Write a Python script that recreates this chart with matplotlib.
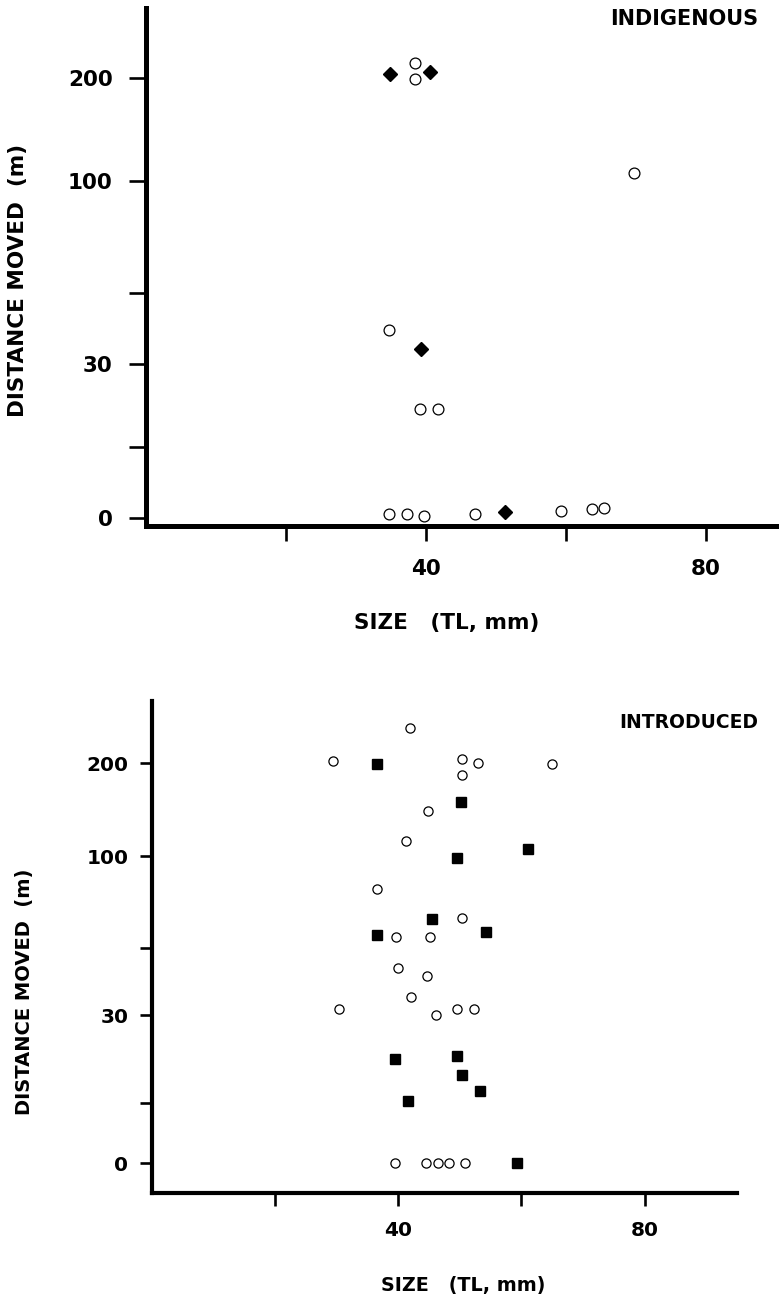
import numpy as np
import matplotlib
matplotlib.use("Agg")
import matplotlib.pyplot as plt

# ---------------- data ----------------
# Indigenous panel
ind_open_x = [38.4, 38.4, 69.7, 34.7, 39.1, 41.7, 34.7, 37.3, 39.7, 47.0, 59.3, 63.7, 65.4]
ind_open_y = [215, 199, 108, 39.6, 21.9, 21.9, 0.8, 0.8, 0.4, 0.8, 1.5, 1.9, 2.1]
ind_fill_x = [34.9, 40.6, 39.3, 51.3]
ind_fill_y = [204, 206, 34.2, 1.3]

# Introduced panel
intro_open_x = [29.4, 41.9, 50.4, 52.9, 65.0, 50.4, 44.8, 41.2, 36.5, 50.4, 39.7, 45.1,
                39.9, 44.6, 42.0, 30.4, 46.2, 49.6, 52.3, 39.4, 44.5, 46.4, 48.2, 50.9]
intro_open_y = [202, 238, 204, 200, 199, 187, 148, 116, 82, 66.3, 56, 56,
                44, 41.6, 35.4, 31.8, 30, 31.8, 31.8, 0, 0, 0, 0, 0]
intro_fill_x = [36.5, 50.1, 49.6, 61.1, 45.4, 54.3, 36.6, 39.4, 49.6, 50.4, 53.2, 41.5, 59.2]
intro_fill_y = [199, 158, 99, 107.5, 66, 58.7, 57, 22.5, 23, 19.8, 17, 15.3, 0]

y_ticks = [0, 15, 30, 50, 100, 200]
y_tick_labels = ["0", "", "30", "", "100", "200"]
x_ticks = [20, 40, 60, 80]
x_tick_labels = ["", "40", "", "80"]
panel_titles = ["INDIGENOUS", "INTRODUCED"]
x_label = "SIZE   (TL, mm)"
y_label = "DISTANCE MOVED  (m)"

# ---------------- scale geometry (hand-drawn, non-linear axis) ----------------
TOP_KNOT_POS = [0, 71, 154, 225, 337, 440]
BOT_KNOT_POS = [0, 60, 148, 215, 307, 400]


def make_funcs(vals, pos):
    vals = np.asarray(vals, float)
    pos = np.asarray(pos, float)
    s0 = (pos[1] - pos[0]) / (vals[1] - vals[0])
    s1 = (pos[-1] - pos[-2]) / (vals[-1] - vals[-2])

    def fwd(v):
        v = np.asarray(v, float)
        out = np.interp(v, vals, pos)
        out = np.where(v < vals[0], pos[0] + (v - vals[0]) * s0, out)
        out = np.where(v > vals[-1], pos[-1] + (v - vals[-1]) * s1, out)
        return out

    def inv(p):
        p = np.asarray(p, float)
        out = np.interp(p, pos, vals)
        out = np.where(p < pos[0], vals[0] + (p - pos[0]) / s0, out)
        out = np.where(p > pos[-1], vals[-1] + (p - pos[-1]) / s1, out)
        return out

    return fwd, inv


plt.rcParams['font.family'] = ['DejaVu Sans']
plt.rcParams['font.weight'] = 'bold'

W, H = 779, 1297
fig = plt.figure(figsize=(W / 100, H / 100), dpi=100)


def px_axes(left, top, right, bottom):
    return fig.add_axes([left / W, 1 - bottom / H, (right - left) / W, (bottom - top) / H])


def style_axes(ax, lw, tick_len_y, tick_len_x, fs, pad_y, pad_x):
    for s in ("top", "right"):
        ax.spines[s].set_visible(False)
    for s in ("left", "bottom"):
        ax.spines[s].set_linewidth(lw)
        ax.spines[s].set_capstyle('projecting')
    ax.set_yticks(y_ticks)
    ax.set_yticklabels(y_tick_labels)
    ax.set_xticks(x_ticks)
    ax.set_xticklabels(x_tick_labels)
    ax.tick_params(axis='y', direction='out', length=tick_len_y, width=1.9, pad=pad_y, labelsize=fs)
    ax.tick_params(axis='x', direction='out', length=tick_len_x, width=1.9, pad=pad_x, labelsize=fs)
    for t in ax.get_xticklabels() + ax.get_yticklabels():
        t.set_fontweight('bold')
    ax.minorticks_off()


# ---------------- top panel ----------------
ax1 = px_axes(146, 8, 779, 526)
f, i = make_funcs(y_ticks, TOP_KNOT_POS)
ax1.set_yscale('function', functions=(f, i))
ax1.plot(ind_open_x, ind_open_y, linestyle='none', marker='o', ms=7.8,
         mfc='white', mec='black', mew=0.9, clip_on=False)
ax1.plot(ind_fill_x, ind_fill_y, linestyle='none', marker='D', ms=7.2,
         mfc='black', mec='black', clip_on=False)
ax1.set_xlim(0, 90.4)
ax1.set_ylim(-1.69, 268)
style_axes(ax1, 3.6, 12, 11, 15.5, 12, 13)
ax1.set_xlabel(x_label, fontsize=15.5, fontweight='bold', va='center')
ax1.xaxis.set_label_coords(447 / W, 1 - 623 / H, transform=fig.transFigure)
ax1.set_ylabel(y_label, fontsize=15.5, fontweight='bold', va='center')
ax1.yaxis.set_label_coords(18 / W, 1 - 280 / H, transform=fig.transFigure)
fig.text(758 / W, 1 - 19 / H, panel_titles[0], ha='right', va='center',
         fontsize=15, fontweight='bold')

# ---------------- bottom panel ----------------
ax2 = px_axes(152, 701, 737, 1193)
f2, i2 = make_funcs(y_ticks, BOT_KNOT_POS)
ax2.set_yscale('function', functions=(f2, i2))
ax2.plot(intro_open_x, intro_open_y, linestyle='none', marker='o', ms=6.6,
         mfc='white', mec='black', mew=0.9, clip_on=False)
ax2.plot(intro_fill_x, intro_fill_y, linestyle='none', marker='s', ms=7.0,
         mfc='black', mec='black', clip_on=False)
ax2.set_xlim(0, 95)
ax2.set_ylim(-7.5, 266.7)
style_axes(ax2, 3.0, 9, 9, 14.5, 8, 11)
ax2.set_xlabel(x_label, fontsize=13.8, fontweight='bold', va='center')
ax2.xaxis.set_label_coords(463 / W, 1 - 1285 / H, transform=fig.transFigure)
ax2.set_ylabel(y_label, fontsize=14, fontweight='bold', va='center')
ax2.yaxis.set_label_coords(25 / W, 1 - 992 / H, transform=fig.transFigure)
fig.text(758 / W, 1 - 722 / H, panel_titles[1], ha='right', va='center',
         fontsize=13.5, fontweight='bold')

fig.savefig("out.png", dpi=100, facecolor='white')
